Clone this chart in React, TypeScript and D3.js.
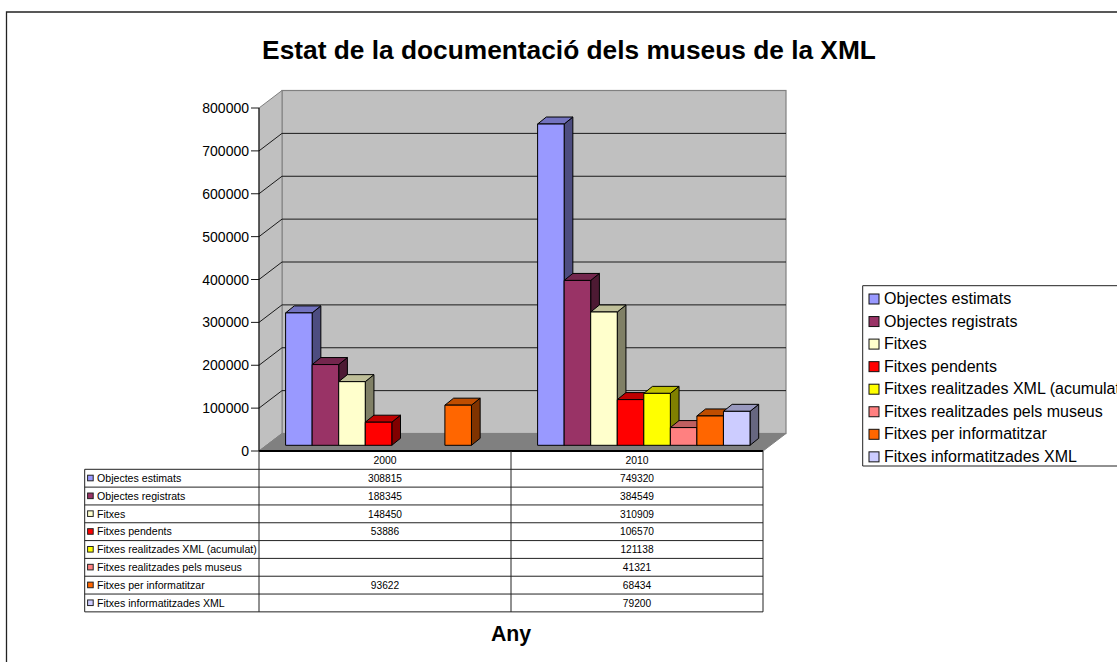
import React from "react";
import * as d3 from "d3";

const categories = ["2000", "2010"];
const seriesNames = [
  "Objectes estimats",
  "Objectes registrats",
  "Fitxes",
  "Fitxes pendents",
  "Fitxes realitzades XML (acumulat)",
  "Fitxes realitzades pels museus",
  "Fitxes per informatitzar",
  "Fitxes informatitzades XML",
];
const values2000: (number | null)[] = [308815, 188345, 148450, 53886, null, null, 93622, null];
const values2010: (number | null)[] = [749320, 384549, 310909, 106570, 121138, 41321, 68434, 79200];
const seriesColors = ["#9999FF", "#993366", "#FFFFCC", "#FF0000", "#FFFF00", "#FF8080", "#FF6600", "#CCCCFF"];
const yTicks = [0, 100000, 200000, 300000, 400000, 500000, 600000, 700000, 800000];
const titleText = "Estat de la documentació dels museus de la XML";
const xTitle = "Any";

const W = 1117, H = 662;
const font = "'Liberation Sans', Arial, sans-serif";
const plotL = 259, plotR = 763, y0 = 451, y800 = 108;
const wallDx = 23, wallDy = 17.5;
const barDx = 8.7, barDy = 7, barLift = 5.7;
const tableL = 84.7, tableTop = 469.3, rowH = 17.82;

const y = d3.scaleLinear().domain([0, 800000]).range([y0, y800]);
const xCat = d3.scaleBand<string>().domain(categories).range([plotL, plotR]);
const xBar = d3.scaleBand<string>().domain(seriesNames).range([26.6, 26.6 + 8 * 26.55]);
const rowY = d3.scaleLinear().domain([0, seriesNames.length]).range([tableTop, tableTop + rowH * seriesNames.length]);

const shade = (c: string, k: number) => {
  const r = d3.rgb(c);
  return d3.rgb(r.r * k, r.g * k, r.b * k).formatHex();
};
const poly = (p: number[][]) => p.map((q) => q.join(",")).join(" ");

const Bar = ({ x, v, c }: { x: number; v: number; c: string }) => {
  const w = xBar.bandwidth();
  const b = y0 - barLift;
  const t = b - (y0 - y(v));
  return (
    <g stroke="#000" strokeWidth={1} strokeLinejoin="round">
      <polygon points={poly([[x + w, t], [x + w + barDx, t - barDy], [x + w + barDx, b - barDy], [x + w, b]])} fill={shade(c, 0.5)} />
      <polygon points={poly([[x, t], [x + barDx, t - barDy], [x + w + barDx, t - barDy], [x + w, t]])} fill={shade(c, 0.75)} />
      <rect x={x} y={t} width={w} height={b - t} fill={c} />
    </g>
  );
};

export default function App() {
  const rows = [values2000, values2010];
  return (
    <svg width={W} height={H} viewBox={`0 0 ${W} ${H}`} style={{ position: "absolute", left: 0, top: 0, display: "block", background: "#fff" }} fontFamily={font}>
      {/* frame */}
      <path d={`M${W + 2},12 H6.5 V${H + 2}`} fill="none" stroke="#222" strokeWidth={1.3} />
      <text x={569} y={58.5} textAnchor="middle" fontSize={26.3} fontWeight="bold" fill="#000">{titleText}</text>

      {/* walls */}
      <rect x={plotL + wallDx} y={y800 - wallDy} width={plotR - plotL} height={y0 - y800} fill="#C0C0C0" stroke="#808080" strokeWidth={1.2} />
      <polygon points={poly([[plotL, y0], [plotL, y800], [plotL + wallDx, y800 - wallDy], [plotL + wallDx, y0 - wallDy]])} fill="#C0C0C0" stroke="#808080" strokeWidth={1} />
      <polygon points={poly([[plotL, y0], [plotL + wallDx, y0 - wallDy], [plotR + wallDx, y0 - wallDy], [plotR, y0]])} fill="#808080" stroke="#808080" strokeWidth={1} />

      {/* gridlines */}
      {yTicks.map((t) => (
        <g key={t}>
          {t > 0 && t < 800000 && (
            <line x1={plotL + wallDx} x2={plotR + wallDx} y1={y(t) - wallDy} y2={y(t) - wallDy} stroke="#1a1a1a" strokeWidth={1} />
          )}
          {t < 800000 && t > 0 && (
            <line x1={plotL} x2={plotL + wallDx} y1={y(t)} y2={y(t) - wallDy} stroke="#1a1a1a" strokeWidth={1} />
          )}
          <line x1={plotL - 8} x2={plotL} y1={y(t)} y2={y(t)} stroke="#1a1a1a" strokeWidth={1} />
          <text x={249} y={y(t) + 5} textAnchor="end" fontSize={14} fill="#000">{t}</text>
        </g>
      ))}
      <line x1={plotL} x2={plotL} y1={y800} y2={y0} stroke="#000" strokeWidth={1} />

      {/* bars */}
      {categories.map((cat, ci) => (
        <g key={cat}>
          {seriesNames.map((s, si) => {
            const v = rows[ci][si];
            if (v == null) return null;
            return <Bar key={s} x={(xCat(cat) as number) + (xBar(s) as number)} v={v} c={seriesColors[si]} />;
          })}
        </g>
      ))}

      {/* data table */}
      <g stroke="#222" strokeWidth={1} fill="none">
        <line x1={plotL} x2={plotR} y1={y0} y2={y0} stroke="#000" strokeWidth={1.8} />
        {d3.range(seriesNames.length + 1).map((i) => (
          <line key={i} x1={tableL} x2={plotR} y1={rowY(i)} y2={rowY(i)} />
        ))}
        <line x1={tableL} x2={tableL} y1={tableTop} y2={rowY(seriesNames.length)} />
        <line x1={plotL} x2={plotL} y1={y0} y2={rowY(seriesNames.length)} />
        <line x1={xCat("2010") as number} x2={xCat("2010") as number} y1={y0} y2={rowY(seriesNames.length)} />
        <line x1={plotR} x2={plotR} y1={y0} y2={rowY(seriesNames.length)} />
      </g>
      {categories.map((cat) => (
        <text key={cat} x={(xCat(cat) as number) + xCat.bandwidth() / 2} y={464} textAnchor="middle" fontSize={10.4} fill="#000">{cat}</text>
      ))}
      {seriesNames.map((s, si) => (
        <g key={s}>
          <rect x={87.6} y={rowY(si) + rowH / 2 - 3} width={5.6} height={5.6} fill={seriesColors[si]} stroke="#222" strokeWidth={1} />
          <text x={97} y={rowY(si) + rowH / 2 + 3.8} fontSize={10.6} fill="#000">{s}</text>
          {categories.map((cat, ci) =>
            rows[ci][si] == null ? null : (
              <text key={cat} x={(xCat(cat) as number) + xCat.bandwidth() / 2} y={rowY(si) + rowH / 2 + 3.8} textAnchor="middle" fontSize={10.2} fill="#000">{rows[ci][si]}</text>
            )
          )}
        </g>
      ))}
      <text x={511} y={641} textAnchor="middle" fontSize={21.3} fontWeight="bold" fill="#000">{xTitle}</text>

      {/* legend */}
      <path d={`M${W + 2},285.7 H862.7 V466 H${W + 2}`} fill="none" stroke="#222" strokeWidth={1} />
      {seriesNames.map((s, si) => {
        const cy = 299 + si * 22.55;
        return (
          <g key={s}>
            <rect x={869} y={cy - 5} width={10} height={10} fill={seriesColors[si]} stroke="#111" strokeWidth={1} />
            <text x={884} y={cy + 5} fontSize={16} fill="#000">{s}</text>
          </g>
        );
      })}
    </svg>
  );
}
